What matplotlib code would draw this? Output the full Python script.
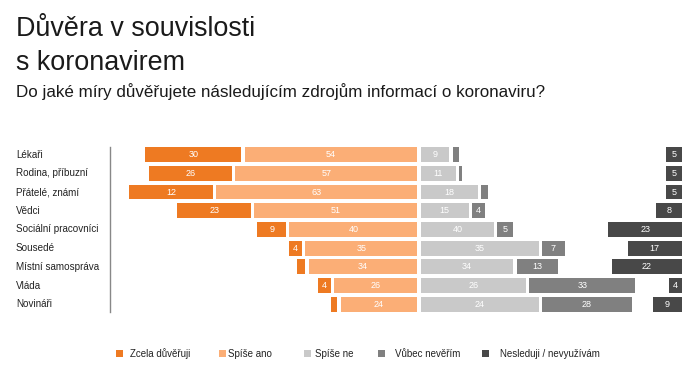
import matplotlib
matplotlib.use('Agg')
import matplotlib.pyplot as plt
import matplotlib.transforms as mtransforms

plt.rcParams['font.family'] = ['Liberation Sans', 'DejaVu Sans']

categories = ['Lékaři', 'Rodina, příbuzní', 'Přátelé, známí', 'Vědci',
              'Sociální pracovníci', 'Sousedé', 'Místní samospráva',
              'Vláda', 'Novináři']

# bar lengths as drawn in the source chart, and the labels it prints
zcela = [30, 26, 26, 23, 9, 4, 2.7, 4, 1.9]
zcela_lbl = ['30', '26', '12', '23', '9', '4', '', '4', '']
spise_ano = [54, 57, 63, 51, 40, 35, 34, 26, 24]
spise_ano_lbl = ['54', '57', '63', '51', '40', '35', '34', '26', '24']
spise_ne = [9, 11, 18, 15, 23, 37, 29, 33, 37]
spise_ne_lbl = ['9', '11', '18', '15', '40', '35', '34', '26', '24']
vubec = [2, 1, 2, 4, 5, 7, 13, 33, 28]
vubec_lbl = ['', '', '', '4', '5', '7', '13', '33', '28']
nesleduji = [5, 5, 5, 8, 23, 17, 22, 4, 9]
nesleduji_lbl = ['5', '5', '5', '8', '23', '17', '22', '4', '9']

legend_labels = ['Zcela důvěřuji', 'Spíše ano', 'Spíše ne', 'Vůbec nevěřím',
                 'Nesleduji / nevyužívám']
colors = ['#EE7A22', '#FBAE76', '#C9C9C9', '#808080', '#484848']

W, H = 700, 371
fig = plt.figure(figsize=(W / 100, H / 100), dpi=100)

# axes: 3.2 px per percent, zero at x=419 px
scale = 3.2
x0 = 419
ax_left, ax_right = 110, 690
ax = fig.add_axes([ax_left / W, (H - 313.6) / H, (ax_right - ax_left) / W, 168.3 / H])
ax.set_xlim((ax_left - x0) / scale, (ax_right - x0) / scale)
ax.set_ylim(8.5, -0.5)

gap = 1.0
h = 0.79
right_edge = (682 - x0) / scale

ys = range(len(categories))
for i in ys:
    segs = []
    # left side
    a_left = -gap / 2 - spise_ano[i]
    segs.append((a_left, spise_ano[i], colors[1], spise_ano_lbl[i]))
    z_left = a_left - gap - zcela[i]
    segs.append((z_left, zcela[i], colors[0], zcela_lbl[i]))
    # right side
    n_left = gap / 2
    segs.append((n_left, spise_ne[i], colors[2], spise_ne_lbl[i]))
    v_left = n_left + spise_ne[i] + gap
    segs.append((v_left, vubec[i], colors[3], vubec_lbl[i]))
    segs.append((right_edge - nesleduji[i], nesleduji[i], colors[4], nesleduji_lbl[i]))
    for left, width, c, lbl in segs:
        ax.barh(i, width, left=left, height=h, color=c, linewidth=0)
        if lbl:
            ax.text(left + width / 2, i, lbl, ha='center', va='center',
                    color='white', fontsize=6.5)

for s in ['top', 'right', 'bottom']:
    ax.spines[s].set_visible(False)
ax.spines['left'].set_color('#888888')
ax.spines['left'].set_linewidth(1)
ax.spines['left'].set_bounds(-0.4, 8.4)
ax.set_xticks([])
ax.set_yticks([])

trans = mtransforms.blended_transform_factory(fig.transFigure, ax.transData)
for i, name in enumerate(categories):
    fig.text(16 / W, i, name, transform=trans, ha='left', va='center',
             fontsize=7.1, color='#222222')

# titles
fig.text(16 / W, 1 - 36 / H, 'Důvěra v souvislosti', fontsize=19.4,
         ha='left', va='baseline', color='#1a1a1a')
fig.text(16 / W, 1 - 70.5 / H, 's koronavirem', fontsize=19.4,
         ha='left', va='baseline', color='#1a1a1a')
fig.text(16 / W, 1 - 96.7 / H,
         'Do jaké míry důvěřujete následujícím zdrojům informací o koronaviru?',
         fontsize=12.25, ha='left', va='baseline', color='#1a1a1a')

# legend
sq_x = [116, 218.5, 303.5, 377.5, 482]
txt_x = [129.5, 228.5, 315, 395, 500]
ly = 353.7
for sx, tx, c, lab in zip(sq_x, txt_x, colors, legend_labels):
    fig.patches.append(plt.Rectangle((sx / W, 1 - (ly + 3.7) / H), 7.2 / W, 7.4 / H,
                                     transform=fig.transFigure, color=c, linewidth=0))
    fig.text(tx / W, 1 - ly / H, lab, fontsize=7, ha='left', va='center',
             color='#222222')

fig.savefig('out.png', dpi=100)
